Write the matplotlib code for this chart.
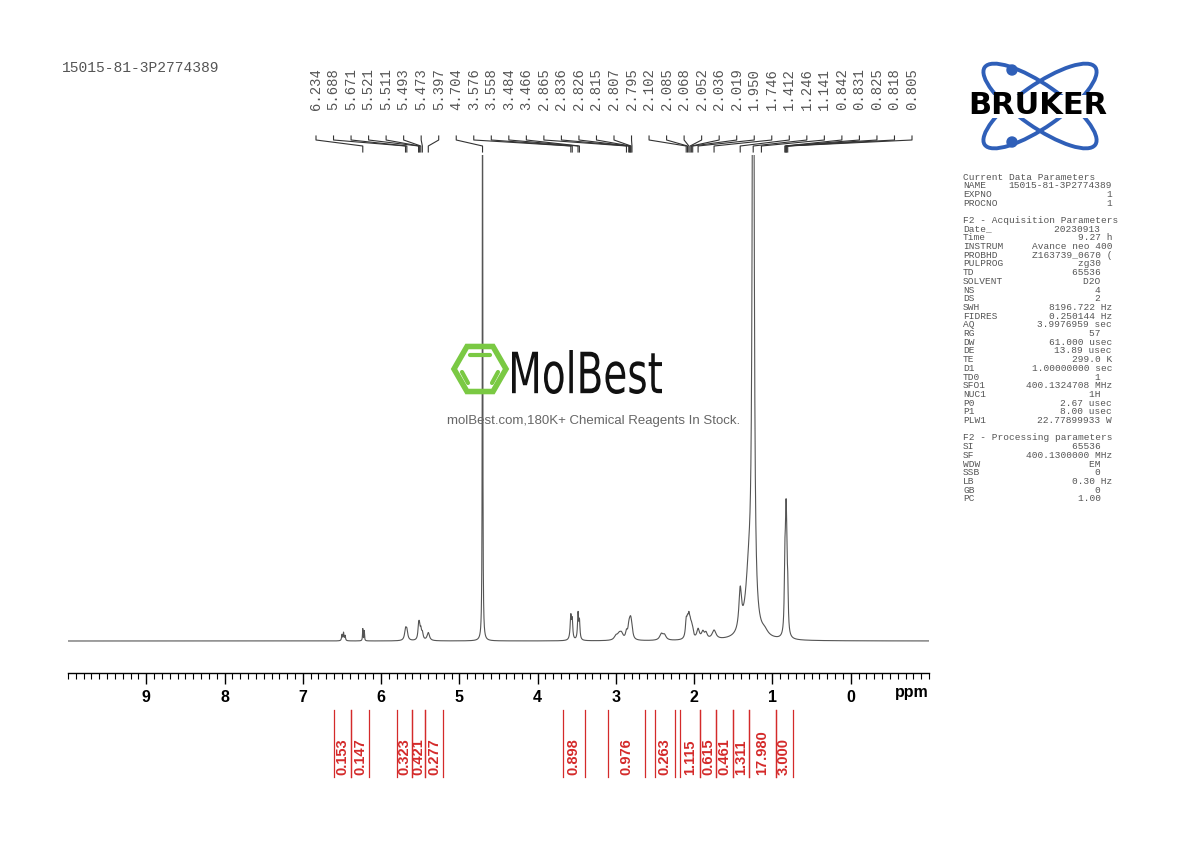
import numpy as np
import matplotlib.pyplot as plt
from matplotlib.patches import Ellipse, RegularPolygon, Circle, PathPatch, Rectangle
from matplotlib.textpath import TextPath
from matplotlib.font_manager import FontProperties
from matplotlib.transforms import Affine2D

# ── Data ──
sample_name = "15015-81-3P2774389"

# peak lines (ppm, height in plot units, half-width ppm)
peak_ppm = [6.50, 6.48, 6.46, 6.234, 6.215,
            5.688, 5.671, 5.521, 5.511, 5.493, 5.473, 5.397,
            4.704,
            3.576, 3.558, 3.484, 3.466,
            3.00, 2.96, 2.93, 2.865, 2.836, 2.826, 2.815, 2.807, 2.795,
            2.42, 2.38,
            2.102, 2.085, 2.068, 2.052, 2.036, 2.019, 1.950, 1.89, 1.85, 1.746,
            1.412, 1.30, 1.246, 1.10,
            0.842, 0.831, 0.825, 0.818, 0.805]
peak_h = [6, 8, 5, 12, 10,
          10, 9, 12, 11, 9, 7, 8,
          650,
          24, 18, 26, 18,
          4, 5, 6, 7, 8, 7, 9, 8, 7,
          6, 5,
          16, 13, 17, 11, 9, 7, 10, 7, 6, 9,
          40, 60, 900, 5,
          60, 55, 60, 50, 40]
peak_w = [0.006, 0.006, 0.006, 0.004, 0.004,
          0.014, 0.014, 0.010, 0.010, 0.010, 0.012, 0.018,
          0.0035,
          0.010, 0.008, 0.008, 0.008,
          0.025, 0.025, 0.025, 0.014, 0.014, 0.014, 0.014, 0.014, 0.014,
          0.025, 0.025,
          0.012, 0.012, 0.012, 0.012, 0.012, 0.012, 0.02, 0.02, 0.02, 0.03,
          0.02, 0.05, 0.012, 0.05,
          0.008, 0.008, 0.008, 0.008, 0.008]

peak_labels = ["6.234", "5.688", "5.671", "5.521", "5.511", "5.493", "5.473", "5.397",
               "4.704", "3.576", "3.558", "3.484", "3.466", "2.865", "2.836", "2.826",
               "2.815", "2.807", "2.795", "2.102", "2.085", "2.068", "2.052", "2.036",
               "2.019", "1.950", "1.746", "1.412", "1.246", "1.141", "0.842", "0.831",
               "0.825", "0.818", "0.805"]

integ_start = [6.60, 6.38, 5.80, 5.61, 5.44, 3.68, 3.10, 2.50, 2.18, 1.93, 1.72, 1.50, 1.30, 0.96]
integ_end = [6.38, 6.16, 5.61, 5.44, 5.21, 3.40, 2.63, 2.25, 1.93, 1.72, 1.50, 1.30, 0.96, 0.74]
integ_vals = ["0.153", "0.147", "0.323", "0.421", "0.277", "0.898", "0.976", "0.263",
              "1.115", "0.615", "0.461", "1.311", "17.980", "3.000"]

params = [("Current Data Parameters", ""), ("NAME", "15015-81-3P2774389"), ("EXPNO", "1"),
          ("PROCNO", "1"), ("", ""), ("F2 - Acquisition Parameters", ""),
          ("Date_", "20230913  "), ("Time", "9.27 h"), ("INSTRUM", "Avance neo 400"),
          ("PROBHD", "Z163739_0670 ("), ("PULPROG", "zg30  "), ("TD", "65536  "),
          ("SOLVENT", "D2O  "), ("NS", "4  "), ("DS", "2  "), ("SWH", "8196.722 Hz"),
          ("FIDRES", "0.250144 Hz"), ("AQ", "3.9976959 sec"), ("RG", "57  "),
          ("DW", "61.000 usec"), ("DE", "13.89 usec"), ("TE", "299.0 K"),
          ("D1", "1.00000000 sec"), ("TD0", "1  "), ("SFO1", "400.1324708 MHz"),
          ("NUC1", "1H  "), ("P0", "2.67 usec"), ("P1", "8.00 usec"),
          ("PLW1", "22.77899933 W"), ("", ""), ("F2 - Processing parameters", ""),
          ("SI", "65536  "), ("SF", "400.1300000 MHz"), ("WDW", "EM  "), ("SSB", "0  "),
          ("LB", "0.30 Hz"), ("GB", "0  "), ("PC", "1.00  ")]

W, H = 1190, 842
fig = plt.figure(figsize=(W / 100, H / 100), dpi=100)
red = "#d42a2a"
mono = ["Liberation Mono", "DejaVu Sans Mono"]

# ── spectrum axes ──
ax = fig.add_axes([68 / W, 1 - 673 / H, (929 - 68) / W, (673 - 155) / H])
x = np.linspace(10, -1, 30000)
y = np.zeros_like(x)
for p, h, w in zip(peak_ppm, peak_h, peak_w):
    y += h / (1 + ((x - p) / w) ** 2)
ax.plot(x, y, color="#555555", lw=0.8)
ax.set_xlim(10, -1)
ax.set_ylim(-32, 486)
for s in ["top", "left", "right"]:
    ax.spines[s].set_visible(False)
ax.set_yticks([])
ax.set_xticks(range(0, 10))
ax.set_xticks(np.arange(-1, 10.01, 0.1), minor=True)
ax.tick_params(axis="x", which="major", direction="out", length=8, width=1, labelsize=11.5, pad=4)
ax.tick_params(axis="x", which="minor", direction="out", length=4, width=0.8)
for lab in ax.get_xticklabels():
    lab.set_fontweight("bold")
    lab.set_family("Liberation Sans")
ax.spines["bottom"].set_linewidth(1)
fig.text(912 / W, 1 - 693 / H, "ppm", fontsize=11.5, fontweight="bold", ha="center",
         va="center", family="Liberation Sans")

# ── peak label connectors ──
lab_x = np.linspace(316, 912, len(peak_labels))
for lx, lab in zip(lab_x, peak_labels):
    fig.text(lx / W, 1 - 68 / H, lab, rotation=90, ha="center", va="top",
             fontsize=10, family=mono, color="#555555")
    xf = ax.transData.transform((float(lab), 0))[0] / fig.dpi / fig.get_figwidth()
    fig.add_artist(plt.Line2D([lx / W, lx / W, xf, xf],
                              [1 - 136 / H, 1 - 140 / H, 1 - 146 / H, 1 - 152 / H],
                              color="#333333", lw=0.8))

# ── integrals ──
iax = fig.add_axes([68 / W, 1 - 780 / H, (929 - 68) / W, 78 / H], sharex=ax)
iax.axis("off")
iax.set_ylim(0, 78)
for s0, s1, v in zip(integ_start, integ_end, integ_vals):
    iax.plot([s0, s0], [3, 70], color=red, lw=0.9)
    iax.plot([s1, s1], [3, 70], color=red, lw=0.9)
    iax.text((s0 + s1) / 2, 5, v, rotation=90, ha="center", va="bottom",
             color=red, fontsize=10.5, fontweight="bold", family="Liberation Sans")
ax.set_xlim(10, -1)

# ── header text ──
fig.text(62 / W, 1 - 68 / H, sample_name, fontsize=10.5, family=mono, color="#555555",
         ha="left", va="center")

# ── parameter panel ──
for i, (k, v) in enumerate(params):
    yy = 1 - (177 + i * 8.7) / H
    fig.text(963 / W, yy, k, fontsize=6.8, family=mono, color="#555555", va="center")
    if v:
        fig.text(1112 / W, yy, v, fontsize=6.8, family=mono, color="#555555",
                 va="center", ha="right")

# ── logos ──
lax = fig.add_axes([0, 0, 1, 1])
lax.set_xlim(0, W)
lax.set_ylim(H, 0)
lax.axis("off")
blue = "#2f5fb8"
for ang in (35, -35):
    lax.add_patch(Ellipse((1040, 106), 135, 42, angle=ang, fill=False, ec=blue, lw=2.8))
for cx, cy in [(1012, 70), (1012, 142)]:
    lax.add_patch(Circle((cx, cy), 5, color=blue))
lax.add_patch(Rectangle((960, 95), 158, 23, fc="white", ec="none"))
lax.text(1038, 106, "BRUKER", fontsize=22, fontweight="bold", color="black",
         ha="center", va="center", family="DejaVu Sans")

green = "#7ac943"
lax.add_patch(RegularPolygon((480, 369), 6, radius=26, orientation=np.pi / 6,
                             fill=False, ec=green, lw=4))
lax.plot([470, 490], [355, 355], color=green, lw=3, solid_capstyle="round")
lax.plot([462, 468], [372, 383], color=green, lw=3, solid_capstyle="round")
lax.plot([498, 492], [372, 383], color=green, lw=3, solid_capstyle="round")
tp = TextPath((0, 0), "MolBest", size=40, prop=FontProperties(family="DejaVu Sans"))
tb = tp.get_extents()
tr = (Affine2D().translate(-tb.x0, -tb.y0).scale(150 / tb.width, -44 / tb.height)
      .translate(512, 394))
lax.add_patch(PathPatch(tr.transform_path(tp), fc="#111111", ec="none"))
lax.text(594, 421, "molBest.com,180K+ Chemical Reagents In Stock.", fontsize=9.5,
         color="#666666", ha="center", va="center", family="Liberation Sans")

fig.savefig("out.png", dpi=100)
